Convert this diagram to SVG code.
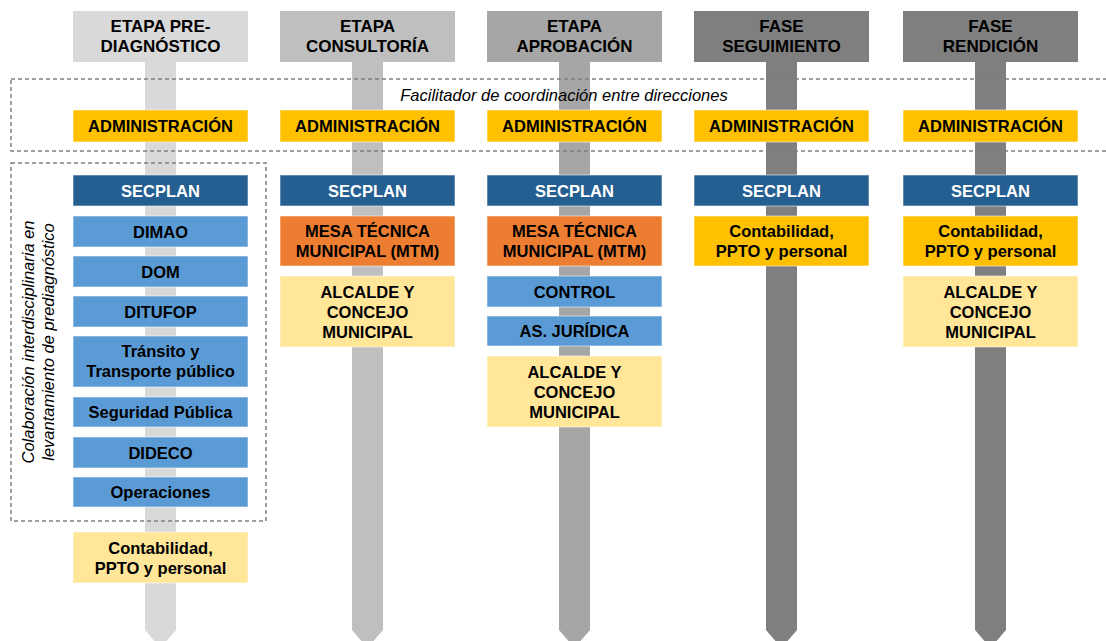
<svg xmlns="http://www.w3.org/2000/svg" width="1106" height="641" viewBox="0 0 1106 641">
<style>
text{font-family:"Liberation Sans",Arial,sans-serif;font-weight:bold;font-size:16.5px;text-anchor:middle;fill:#000}
.hd{font-size:17px}
.w{fill:#fff}
.it{font-style:italic;font-weight:normal;font-size:16.5px}
.dash{fill:none;stroke:#7f7f7f;stroke-width:1.5;stroke-dasharray:4 3}
.box{stroke:#ffffff;stroke-opacity:0.55;stroke-width:1}
.adm{fill:#ffc000}
.sec{fill:#255e91}
.blu{fill:#5b9bd5}
.ora{fill:#ed7d31}
.lyl{fill:#ffe699}
.dyl{fill:#ffc000}
</style>
<rect width="1106" height="641" fill="#fff"/>
<g id="connectors">
<path d="M145,62V630L160.5,648L176,630V62Z" fill="#d9d9d9"/>
<path d="M352,62V630L367.5,648L383,630V62Z" fill="#bfbfbf"/>
<path d="M559,62V630L574.5,648L590,630V62Z" fill="#a6a6a6"/>
<path d="M766,62V630L781.5,648L797,630V62Z" fill="#7f7f7f"/>
<path d="M975,62V630L990.5,648L1006,630V62Z" fill="#7f7f7f"/>
</g>
<g id="groups">
<rect class="dash" x="11" y="79" width="1110" height="72"/>
<text class="it" x="564" y="101">Facilitador de coordinación entre direcciones</text>
<rect class="dash" x="11" y="163" width="255" height="358"/>
<text class="it" transform="translate(34,342) rotate(-90)">Colaboración interdisciplinaria en</text>
<text class="it" transform="translate(54,342) rotate(-90)">levantamiento de prediagnóstico</text>
</g>
<g id="h1"><rect x="73" y="11" width="175" height="51" fill="#d9d9d9"/><text class="hd" x="160.5" y="32">ETAPA PRE-</text><text class="hd" x="160.5" y="52">DIAGNÓSTICO</text></g>
<g id="h2"><rect x="280" y="11" width="175" height="51" fill="#bfbfbf"/><text class="hd" x="367.5" y="32">ETAPA</text><text class="hd" x="367.5" y="52">CONSULTORÍA</text></g>
<g id="h3"><rect x="487" y="11" width="175" height="51" fill="#a6a6a6"/><text class="hd" x="574.5" y="32">ETAPA</text><text class="hd" x="574.5" y="52">APROBACIÓN</text></g>
<g id="h4"><rect x="694" y="11" width="175" height="51" fill="#7f7f7f"/><text class="hd" x="781.5" y="32">FASE</text><text class="hd" x="781.5" y="52">SEGUIMIENTO</text></g>
<g id="h5"><rect x="903" y="11" width="175" height="51" fill="#7f7f7f"/><text class="hd" x="990.5" y="32">FASE</text><text class="hd" x="990.5" y="52">RENDICIÓN</text></g>

<g id="adm1"><rect class="box adm" x="73" y="110" width="175" height="32"/><text x="160.5" y="132">ADMINISTRACIÓN</text></g>
<g id="adm2"><rect class="box adm" x="280" y="110" width="175" height="32"/><text x="367.5" y="132">ADMINISTRACIÓN</text></g>
<g id="adm3"><rect class="box adm" x="487" y="110" width="175" height="32"/><text x="574.5" y="132">ADMINISTRACIÓN</text></g>
<g id="adm4"><rect class="box adm" x="694" y="110" width="175" height="32"/><text x="781.5" y="132">ADMINISTRACIÓN</text></g>
<g id="adm5"><rect class="box adm" x="903" y="110" width="175" height="32"/><text x="990.5" y="132">ADMINISTRACIÓN</text></g>

<g id="sec1"><rect class="box sec" x="73" y="175" width="175" height="31"/><text class="w" x="160.5" y="196.5">SECPLAN</text></g>
<g id="sec2"><rect class="box sec" x="280" y="175" width="175" height="31"/><text class="w" x="367.5" y="196.5">SECPLAN</text></g>
<g id="sec3"><rect class="box sec" x="487" y="175" width="175" height="31"/><text class="w" x="574.5" y="196.5">SECPLAN</text></g>
<g id="sec4"><rect class="box sec" x="694" y="175" width="175" height="31"/><text class="w" x="781.5" y="196.5">SECPLAN</text></g>
<g id="sec5"><rect class="box sec" x="903" y="175" width="175" height="31"/><text class="w" x="990.5" y="196.5">SECPLAN</text></g>

<g id="dimao"><rect class="box blu" x="73" y="216" width="175" height="31"/><text x="160.5" y="237.5">DIMAO</text></g>
<g id="dom"><rect class="box blu" x="73" y="256" width="175" height="31"/><text x="160.5" y="277.5">DOM</text></g>
<g id="ditufop"><rect class="box blu" x="73" y="296" width="175" height="31"/><text x="160.5" y="317.5">DITUFOP</text></g>
<g id="transito"><rect class="box blu" x="73" y="336" width="175" height="51"/><text x="160.5" y="357">Tránsito y</text><text x="160.5" y="377">Transporte público</text></g>
<g id="seguridad"><rect class="box blu" x="73" y="397" width="175" height="30"/><text x="160.5" y="418">Seguridad Pública</text></g>
<g id="dideco"><rect class="box blu" x="73" y="437" width="175" height="31"/><text x="160.5" y="458.5">DIDECO</text></g>
<g id="operaciones"><rect class="box blu" x="73" y="477" width="175" height="30"/><text x="160.5" y="498">Operaciones</text></g>
<g id="conta1"><rect class="box lyl" x="73" y="532" width="175" height="51"/><text x="160.5" y="554">Contabilidad,</text><text x="160.5" y="574">PPTO y personal</text></g>

<g id="mtm2"><rect class="box ora" x="280" y="216" width="175" height="50"/><text x="367.5" y="237">MESA TÉCNICA</text><text x="367.5" y="257">MUNICIPAL (MTM)</text></g>
<g id="alc2"><rect class="box lyl" x="280" y="276" width="175" height="71"/><text x="367.5" y="298">ALCALDE Y</text><text x="367.5" y="318">CONCEJO</text><text x="367.5" y="338">MUNICIPAL</text></g>

<g id="mtm3"><rect class="box ora" x="487" y="216" width="175" height="50"/><text x="574.5" y="237">MESA TÉCNICA</text><text x="574.5" y="257">MUNICIPAL (MTM)</text></g>
<g id="control"><rect class="box blu" x="487" y="276" width="175" height="31"/><text x="574.5" y="297.5">CONTROL</text></g>
<g id="juridica"><rect class="box blu" x="487" y="316" width="175" height="30"/><text x="574.5" y="337">AS. JURÍDICA</text></g>
<g id="alc3"><rect class="box lyl" x="487" y="356" width="175" height="71"/><text x="574.5" y="378">ALCALDE Y</text><text x="574.5" y="398">CONCEJO</text><text x="574.5" y="418">MUNICIPAL</text></g>

<g id="conta4"><rect class="box dyl" x="694" y="216" width="175" height="50"/><text x="781.5" y="237">Contabilidad,</text><text x="781.5" y="257">PPTO y personal</text></g>

<g id="conta5"><rect class="box dyl" x="903" y="216" width="175" height="50"/><text x="990.5" y="237">Contabilidad,</text><text x="990.5" y="257">PPTO y personal</text></g>
<g id="alc5"><rect class="box lyl" x="903" y="276" width="175" height="71"/><text x="990.5" y="298">ALCALDE Y</text><text x="990.5" y="318">CONCEJO</text><text x="990.5" y="338">MUNICIPAL</text></g>
</svg>
